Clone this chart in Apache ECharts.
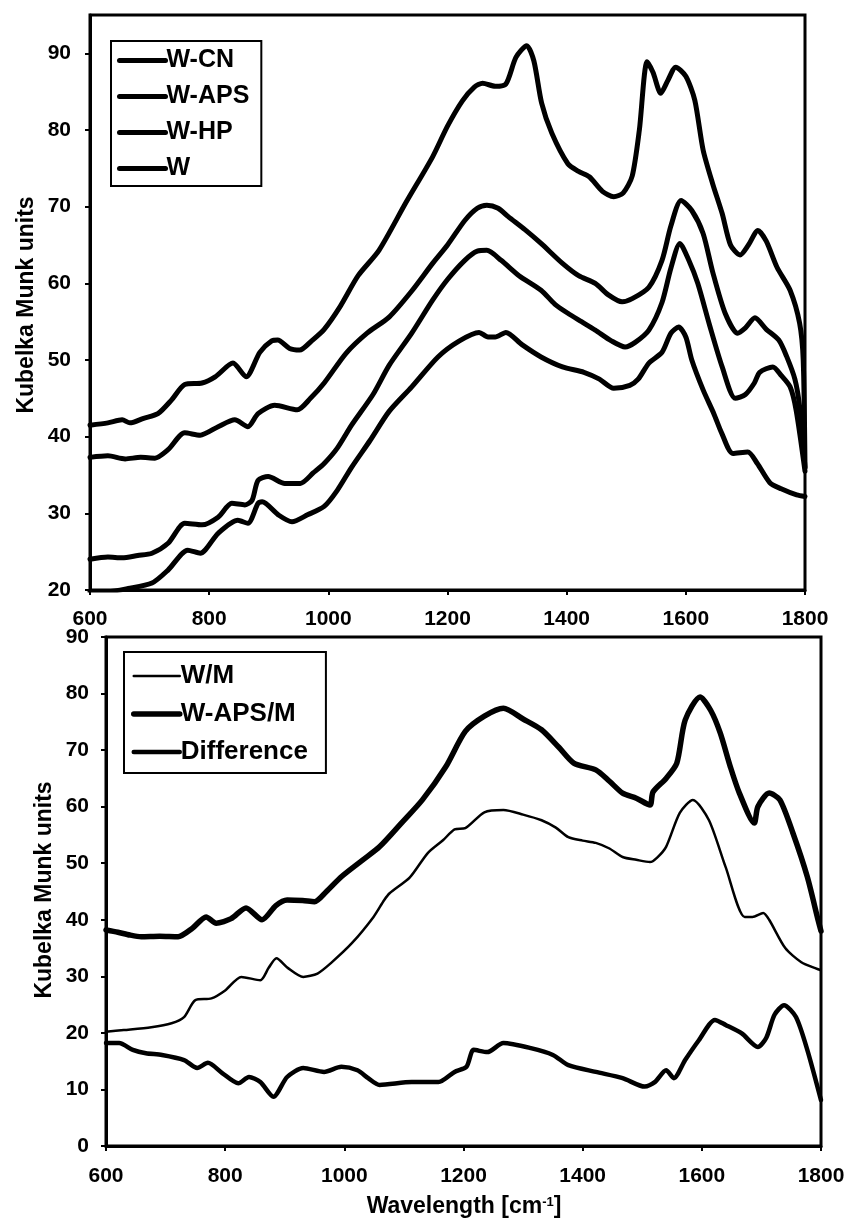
<!DOCTYPE html>
<html><head><meta charset="utf-8">
<script src="https://cdn.jsdelivr.net/npm/echarts/dist/echarts.min.js"></script>
<style>html,body{margin:0;padding:0;background:#fff}#c{width:848px;height:1227px}</style>
</head><body><div id="c"></div>
<script>
// ---------- Data (wavenumber cm-1, Kubelka Munk units) ----------
const W_CN = [[600,41.5],[630,41.8],[654,42.2],[667,41.8],[690,42.4],[714,43],[737,44.8],[759,46.8],[788,47],[810,47.8],[840,49.6],[862,47.8],[885,51],[905,52.5],[915,52.6],[935,51.5],[952,51.3],[972,52.5],[993,54],[1020,57],[1050,61],[1085,64.3],[1130,70.5],[1175,76.5],[1200,80.5],[1225,83.8],[1245,85.6],[1259,86.1],[1280,85.7],[1298,86],[1315,89.5],[1333,91],[1345,89],[1358,83.5],[1375,79.6],[1402,75.6],[1420,74.6],[1438,73.9],[1460,72],[1479,71.3],[1495,71.8],[1510,74],[1522,80],[1535,88.9],[1545,87.5],[1558,84.8],[1570,86.5],[1583,88.2],[1600,87],[1615,83.9],[1629,77.4],[1645,73],[1661,69.1],[1675,65],[1691,63.7],[1705,65],[1721,66.9],[1735,65.5],[1753,62.1],[1775,59.1],[1791,54.8],[1797,50],[1800,36]];
const W_APS = [[600,37.3],[630,37.5],[659,37.1],[685,37.3],[709,37.2],[731,38.3],[759,40.5],[785,40.2],[815,41.3],[843,42.2],[865,41.3],[882,43],[910,44.1],[948,43.5],[970,45],[993,47],[1030,50.9],[1065,53.5],[1102,55.6],[1140,59],[1175,62.6],[1200,65],[1229,68.2],[1250,69.8],[1266,70.2],[1285,69.8],[1302,68.7],[1330,67],[1357,65.2],[1393,62.6],[1420,61],[1448,60],[1470,58.5],[1493,57.6],[1510,58],[1538,59.5],[1560,63],[1575,67.5],[1592,70.8],[1610,69.5],[1629,66.5],[1645,61.5],[1666,56.1],[1687,53.5],[1700,54.2],[1716,55.5],[1735,54],[1756,52.6],[1769,50.5],[1783,47.5],[1791,43.9],[1800,36]];
const W_HP = [[600,24],[630,24.3],[654,24.2],[680,24.5],[704,24.8],[731,26.1],[759,28.7],[788,28.5],[815,29.5],[838,31.3],[860,31.1],[872,31.7],[882,34.3],[899,34.8],[927,33.9],[953,33.9],[975,35.3],[993,36.5],[1015,38.5],[1039,41.5],[1075,45.5],[1102,49.3],[1140,53.5],[1175,57.8],[1200,60.5],[1229,63],[1250,64.2],[1266,64.3],[1290,63],[1320,61],[1357,59.1],[1380,57.3],[1402,56.1],[1425,55],[1448,53.9],[1475,52.5],[1498,51.7],[1515,52.3],[1538,53.9],[1560,57.5],[1575,62],[1590,65.2],[1605,63],[1620,60],[1640,54.5],[1661,49.1],[1683,45],[1700,45.5],[1715,47],[1724,48.4],[1746,49.1],[1760,48],[1775,46.5],[1785,43.5],[1800,35.5]];
const W = [[600,19.8],[630,19.8],[664,20.2],[704,20.9],[731,22.6],[764,25.2],[785,24.8],[815,27.4],[848,29.1],[865,28.7],[882,31.3],[889,31.5],[916,29.8],[939,28.9],[965,29.8],[993,30.9],[1015,33],[1039,36],[1070,39.5],[1102,43.3],[1140,46.5],[1184,50.4],[1220,52.5],[1253,53.6],[1268,53],[1280,53],[1298,53.6],[1325,52],[1357,50.4],[1393,49.1],[1429,48.4],[1455,47.5],[1479,46.3],[1506,46.7],[1520,47.5],[1538,49.6],[1560,51],[1575,53.5],[1588,54.3],[1600,53],[1610,50],[1629,46.1],[1647,43],[1660,40.5],[1679,37.8],[1704,38],[1720,36.5],[1741,34],[1760,33.2],[1786,32.4],[1800,32.2]];

const W_M = [[600,20.2],[630,20.5],[676,21],[710,21.7],[731,22.8],[750,25.8],[777,26.1],[800,27.5],[827,29.9],[859,29.3],[873,31.5],[886,33.2],[905,31.5],[931,29.9],[955,30.5],[977,32.3],[1013,35.9],[1049,40.5],[1067,43.5],[1076,44.7],[1110,47.5],[1140,51.8],[1166,54.1],[1185,56],[1203,56.2],[1235,59],[1267,59.4],[1300,58.6],[1331,57.6],[1355,56.3],[1376,54.6],[1400,54],[1422,53.6],[1445,52.6],[1467,51.1],[1490,50.6],[1513,50.2],[1525,51],[1540,52.9],[1563,58.9],[1585,61.2],[1612,57.6],[1640,49.3],[1672,40.5],[1685,40.5],[1703,41.2],[1713,40],[1740,35],[1767,32.5],[1799,31.1]];
const W_APS_M = [[600,38.2],[620,37.8],[640,37.3],[659,37],[690,37.1],[721,37],[745,38.5],[768,40.5],[785,39.4],[810,40.2],[835,42.1],[862,40],[885,42.5],[904,43.5],[930,43.4],[950,43.2],[970,45],[995,47.6],[1030,50.5],[1059,52.9],[1095,57],[1131,61.2],[1170,67],[1203,73.3],[1235,76],[1267,77.4],[1300,75.5],[1331,73.6],[1360,70.5],[1385,67.7],[1422,66.5],[1445,64.5],[1467,62.4],[1490,61.5],[1513,60.3],[1518,62.6],[1540,65],[1558,67.7],[1572,75.3],[1597,79.4],[1615,77],[1631,73],[1648,67],[1663,62.4],[1688,57.1],[1694,60],[1713,62.4],[1731,61.2],[1753,55.3],[1777,47.6],[1795,40],[1800,38]];
const DIFF = [[600,18.2],[622,18.2],[645,17],[667,16.4],[694,16.1],[731,15.2],[753,13.8],[771,14.7],[795,12.9],[822,11.1],[840,12.2],[859,11.3],[881,8.7],[904,12.2],[931,13.8],[966,13.1],[995,14],[1022,13.4],[1040,12],[1059,10.8],[1113,11.3],[1158,11.3],[1185,13.1],[1205,14],[1217,17],[1240,16.6],[1267,18.2],[1313,17.3],[1350,16.1],[1376,14.3],[1422,13.1],[1467,12],[1504,10.5],[1521,11.3],[1540,13.4],[1553,12],[1572,15.2],[1595,18.7],[1622,22.3],[1640,21.4],[1667,19.9],[1694,17.5],[1708,19.1],[1722,23.2],[1738,24.9],[1758,22.8],[1777,17],[1800,8.1]];

const topNames = ['W-CN','W-APS','W-HP','W'];
const bottomNames = ['W/M','W-APS/M','Difference'];
const topWidths = [5,5,5,5];
const bottomWidths = [2.5,5.5,4.5];
const yTitle = 'Kubelka Munk units';
const xTitle = 'Wavelength [cm{sup|-1}]';

// ---------- Chart ----------
const FONT = "'Liberation Sans', Arial, sans-serif";
const chart = echarts.init(document.getElementById('c'), null, {renderer:'canvas'});

function xAxisCfg(gi, margin){
  return {
    type:'value', gridIndex:gi, min:600, max:1800, interval:200,
    axisLine:{show:true, onZero:false, lineStyle:{color:'#000', width:3}},
    axisTick:{show:true, inside:false, length:5, lineStyle:{color:'#000', width:2}},
    splitLine:{show:false},
    axisLabel:{color:'#000', fontFamily:FONT, fontWeight:'bold', fontSize:21, margin:margin, formatter:v=>String(v)}
  };
}
function yAxisCfg(gi, min, max, margin){
  return {
    type:'value', gridIndex:gi, min:min, max:max, interval:10,
    axisLine:{show:true, lineStyle:{color:'#000', width:3}},
    axisTick:{show:true, inside:false, length:5, lineStyle:{color:'#000', width:2}},
    splitLine:{show:false},
    axisLabel:{color:'#000', fontFamily:FONT, fontWeight:'bold', fontSize:21, margin:margin, showMaxLabel: max===90, formatter:v=>String(v)}
  };
}
function line(name, data, xi, width){
  return {
    name:name, type:'line', xAxisIndex:xi, yAxisIndex:xi, data:data,
    symbol:'none', smooth:0.25, clip:true,
    lineStyle:{color:'#000', width:width, cap:'round', join:'round'},
    itemStyle:{color:'#000'}
  };
}
function legendData(names, widths){
  return names.map((n,i)=>({name:n, itemStyle:{opacity:0}, lineStyle:{width:widths[i], color:'#000', cap:'round'}}));
}
const legendCommon = {
  orient:'vertical', backgroundColor:'#fff', borderColor:'#000', borderWidth:2,
  itemHeight:20, selectedMode:false,
  itemStyle:{opacity:0},
  textStyle:{color:'#000', fontFamily:FONT, fontWeight:'bold', padding:[0,0,0,-4]}
};

chart.setOption({
  animation:false,
  backgroundColor:'#fff',
  grid:[
    {left:90, top:15, width:715, height:575, show:true, borderColor:'#000', borderWidth:3, backgroundColor:'transparent'},
    {left:106, top:637, width:715, height:509, show:true, borderColor:'#000', borderWidth:3, backgroundColor:'transparent'}
  ],
  xAxis:[xAxisCfg(0, 19), xAxisCfg(1, 20)],
  yAxis:[yAxisCfg(0,20,95,19), yAxisCfg(1,0,90,17)],
  legend:[
    Object.assign({}, legendCommon, {data:legendData(topNames, topWidths), left:111, top:41, itemWidth:46, itemGap:11, padding:[7,12,5,6],
      textStyle:Object.assign({}, legendCommon.textStyle, {fontSize:25})}),
    Object.assign({}, legendCommon, {data:legendData(bottomNames, bottomWidths), left:124, top:652, itemWidth:46, itemGap:12, padding:[11,18,8,7],
      textStyle:Object.assign({}, legendCommon.textStyle, {fontSize:26})})
  ],
  series:[
    line(topNames[0], W_CN, 0, topWidths[0]),
    line(topNames[1], W_APS, 0, topWidths[1]),
    line(topNames[2], W_HP, 0, topWidths[2]),
    line(topNames[3], W, 0, topWidths[3]),
    line(bottomNames[0], W_M, 1, bottomWidths[0]),
    line(bottomNames[1], W_APS_M, 1, bottomWidths[1]),
    line(bottomNames[2], DIFF, 1, bottomWidths[2])
  ],
  graphic:[
    {type:'text', x:27, y:305, rotation:Math.PI/2, style:{text:yTitle, fill:'#000', font:"bold 23px 'Liberation Sans', Arial, sans-serif", textAlign:'center', textVerticalAlign:'middle'}},
    {type:'text', x:45, y:890, rotation:Math.PI/2, style:{text:yTitle, fill:'#000', font:"bold 23px 'Liberation Sans', Arial, sans-serif", textAlign:'center', textVerticalAlign:'middle'}},
    {type:'text', x:464, y:1207, style:{text:xTitle, fill:'#000', fontFamily:FONT, fontWeight:'bold', fontSize:23, textAlign:'center', textVerticalAlign:'middle',
      rich:{sup:{fontFamily:FONT, fontWeight:'bold', fontSize:13, verticalAlign:'top', padding:[0,0,10,0]}}}}
  ]
});
</script></body></html>
